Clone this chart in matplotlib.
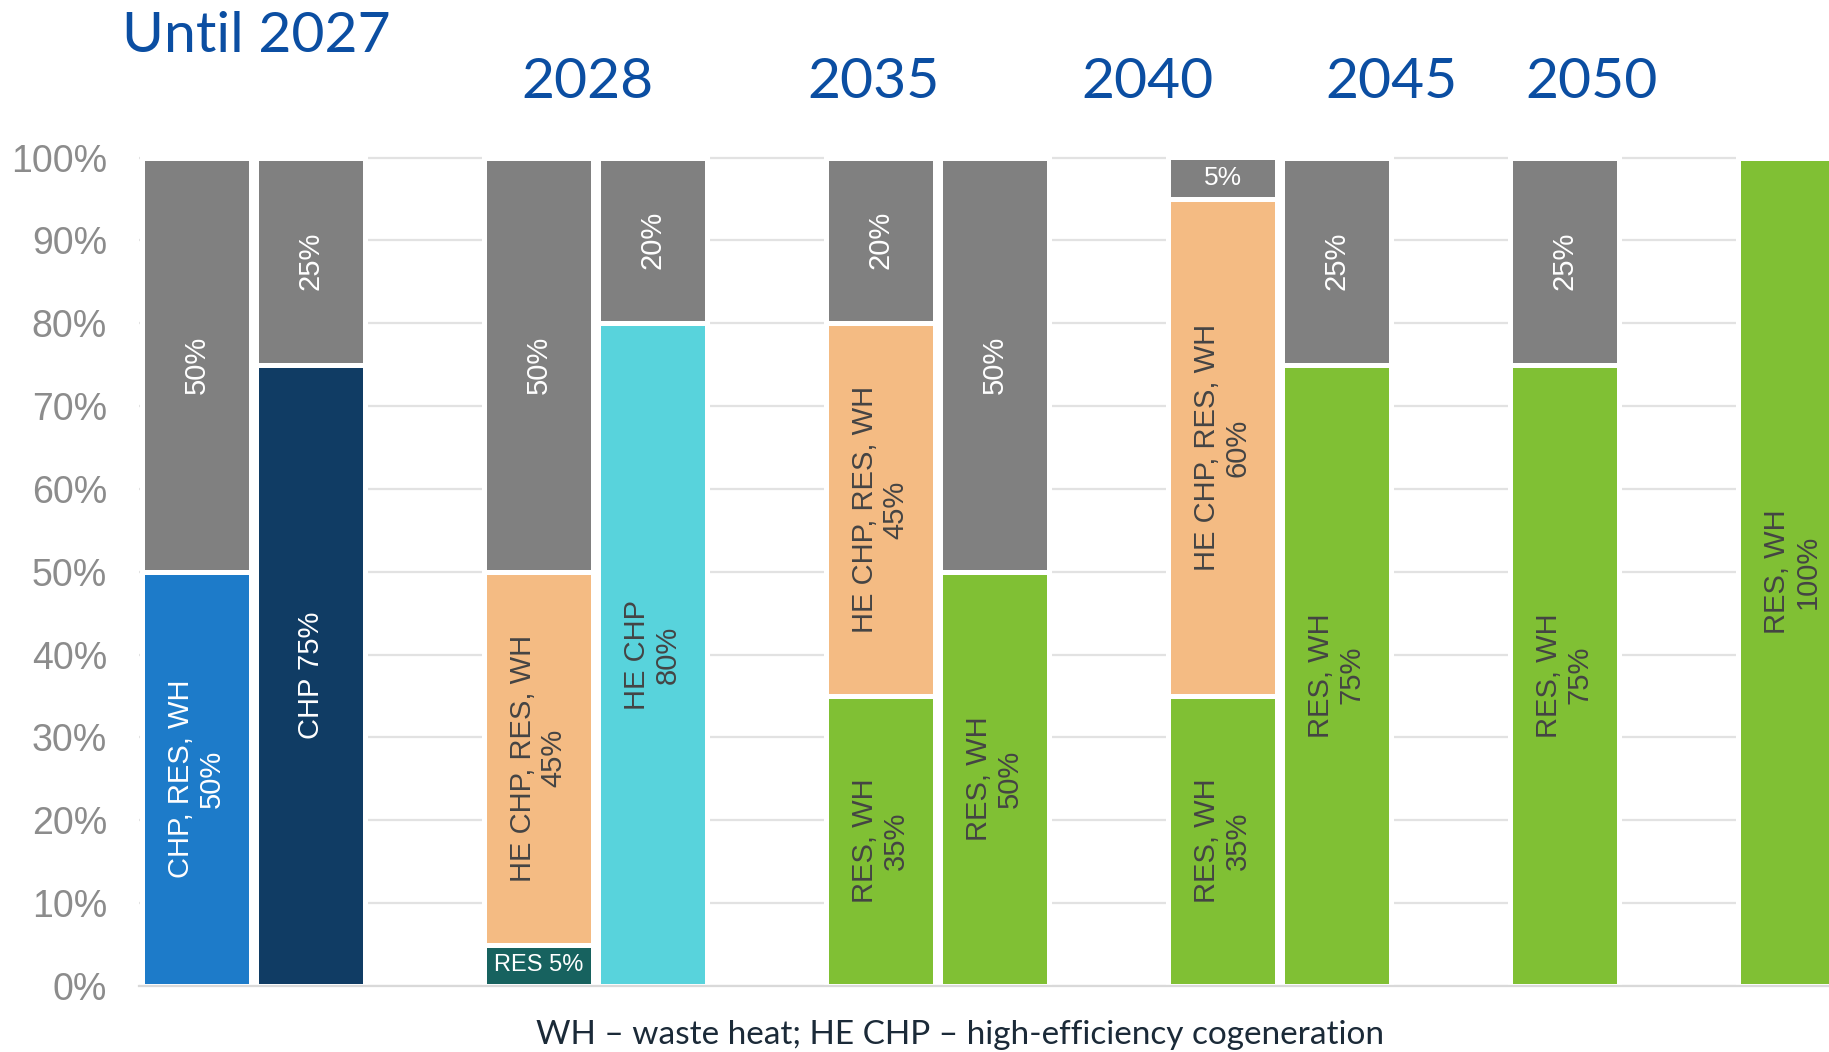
import matplotlib
matplotlib.use("Agg")
import matplotlib.pyplot as plt
import numpy as np

# ---- data (percent) ----
categories = ["Until 2027 A", "Until 2027 B", "", "2028 A", "2028 B", "",
              "2035 A", "2035 B", "", "2040 A", "2040 B", "",
              "2045", "", "2050"]
res          = [0, 0, 0, 5, 0, 0, 0, 0, 0, 0, 0, 0, 0, 0, 0]
res_wh       = [0, 0, 0, 0, 0, 0, 35, 50, 0, 35, 75, 0, 75, 0, 100]
chp_res_wh   = [50, 0, 0, 0, 0, 0, 0, 0, 0, 0, 0, 0, 0, 0, 0]
chp          = [0, 75, 0, 0, 0, 0, 0, 0, 0, 0, 0, 0, 0, 0, 0]
he_chp       = [0, 0, 0, 0, 80, 0, 0, 0, 0, 0, 0, 0, 0, 0, 0]
he_chp_res_wh = [0, 0, 0, 45, 0, 0, 45, 0, 0, 60, 0, 0, 0, 0, 0]
other        = [50, 25, 0, 50, 20, 0, 20, 50, 0, 5, 25, 0, 25, 0, 0]

series = [
    (res,           "RES {}%",              "#17625f", "white"),
    (res_wh,        "RES, WH\n{}%",         "#80c034", "#444444"),
    (chp_res_wh,    "CHP, RES, WH\n{}%",    "#1d7bc9", "white"),
    (chp,           "CHP {}%",              "#103c64", "white"),
    (he_chp,        "HE CHP\n{}%",          "#58d3dc", "#444444"),
    (he_chp_res_wh, "HE CHP, RES, WH\n{}%", "#f4bb83", "#444444"),
    (other,         "{}%",                  "#808080", "white"),
]

yticks = [0, 10, 20, 30, 40, 50, 60, 70, 80, 90, 100]
ytick_labels = [f"{v}%" for v in yticks]

titles = ["Until 2027", "2028", "2035", "2040", "2045", "2050"]
caption = "WH \u2013 waste heat; HE CHP \u2013 high-efficiency cogeneration"

# ---- figure ----
W, H = 1829, 1052
fig = plt.figure(figsize=(W / 100, H / 100), dpi=100)
ax_left = 139 / W
ax_bottom = (H - 986) / H
ax_h = (986 - 157.5) * 1.01 / H
ax = fig.add_axes([ax_left, ax_bottom, 1 - ax_left, ax_h])

x = np.arange(len(categories))
bottom = np.zeros(len(categories))
for vals, fmt, color, tcolor in series:
    v = np.array(vals, dtype=float)
    mask = v > 0
    ax.bar(x[mask], v[mask], bottom=bottom[mask], width=0.955, color=color,
           edgecolor="white", linewidth=3.6, zorder=2)
    for xi, vi, bi in zip(x[mask], v[mask], bottom[mask]):
        label = fmt.format(int(vi))
        if vi < 10:
            fs = 17 if "RES" in label else 19
            ax.text(xi, bi + vi / 2, label, ha="center", va="center",
                    color=tcolor, fontsize=fs, family="Liberation Sans",
                    zorder=3)
        else:
            ax.text(xi, bi + vi / 2, label, ha="center", va="center",
                    rotation=90, rotation_mode="anchor", multialignment="center",
                    color=tcolor, fontsize=21, family="Liberation Sans",
                    linespacing=1.1, zorder=3)
    bottom += v

ax.set_xlim(-0.505, 14.32)
ax.set_ylim(0, 101)
ax.set_yticks(yticks)
ax.set_yticklabels(ytick_labels, fontsize=27, color="#8c8c8c",
                   family="Liberation Sans")
ax.tick_params(axis="y", length=0, pad=23)
ax.set_xticks([])
ax.yaxis.grid(True, color="#e2e2e2", linewidth=1.6, zorder=0)
ax.set_axisbelow(True)
for s in ["top", "right", "left"]:
    ax.spines[s].set_visible(False)
ax.spines["bottom"].set_color("#d9d9d9")
ax.spines["bottom"].set_linewidth(1.6)
ax.spines["bottom"].set_zorder(4)

# ---- titles ----
title_color = "#0b4ea2"
title_pos = [(256, 52), (587, 98), (874, 98), (1148, 98), (1391, 98), (1592, 98)]
for t, (px, py) in zip(titles, title_pos):
    fig.text(px / W, 1 - py / H, t, ha="center", va="baseline",
             fontsize=41, color=title_color, family="Lato")

fig.text(960 / W, 1 - 1044 / H, caption, ha="center", va="baseline",
         fontsize=24, color="#1b2a38", family="Lato")

fig.savefig("out.png", dpi=100)
